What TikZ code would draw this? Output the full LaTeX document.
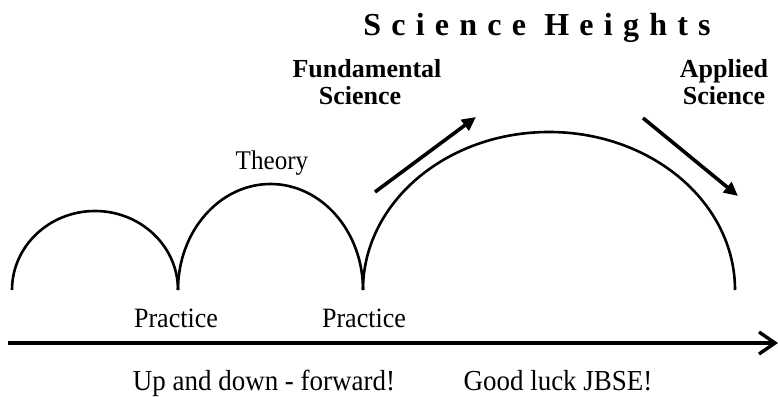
\documentclass[tikz,border=0pt]{standalone}
\usepackage{fontspec}
\setmainfont{Liberation Serif}
\newfontfamily\narrowserif[FakeStretch=0.93]{Liberation Serif}
\usetikzlibrary{arrows.meta}
\tikzset{
  curve/.style={line width=2.6pt},
  thickarrow/.style={line width=3.6pt,-{Triangle[length=14pt,width=13pt]}},
  axisline/.style={line width=3.4pt,-{Straight Barb[length=16pt,width=22pt,line width=3.4pt]}},
  lab/.style={font=\narrowserif\fontsize{28}{30}\selectfont,anchor=base,inner sep=0pt},
  boldlab/.style={font=\fontsize{26}{28}\selectfont\bfseries,anchor=base,inner sep=0pt},
  bottomlab/.style={font=\narrowserif\fontsize{29}{31}\selectfont,anchor=base,inner sep=0pt},
}
\begin{document}
\begin{tikzpicture}[x=1pt,y=1pt]
\useasboundingbox (0,0) rectangle (778,396);
% ground points
\coordinate (p0) at (12,106);
\coordinate (p1) at (178,106);
\coordinate (p2) at (363,106);
\coordinate (p3) at (735,106);
% arcs
\draw[curve] (p0) arc[start angle=180,end angle=0,x radius=83,y radius=79];
\draw[curve] (p1) arc[start angle=180,end angle=0,x radius=92.5,y radius=106];
\draw[curve] (p2) arc[start angle=180,end angle=0,x radius=186,y radius=158];
% axis
\coordinate (a0) at (8,53);
\coordinate (a1) at (778,53);
\draw[axisline] (a0) -- (a1);
% arrows
\coordinate (u0) at (375,204);
\coordinate (u1) at (476,279);
\coordinate (d0) at (643,278);
\coordinate (d1) at (738,200);
\draw[thickarrow] (u0) -- (u1);
\draw[thickarrow] (d0) -- (d1);
% texts
\node[font=\fontsize{32}{34}\selectfont\bfseries\addfontfeature{LetterSpace=32},anchor=base,inner sep=0pt] (title) at (537,360) {Science Heights};
\node[boldlab] (fund1) at (367,318) {Fundamental};
\node[boldlab] (fund2) at (360,291) {Science};
\node[boldlab] (app1) at (724,318) {Applied};
\node[boldlab] (app2) at (724,291) {Science};
\node[lab,font=\narrowserif\fontsize{27}{29}\selectfont] (theory) at (272,226) {Theory};
\node[lab] (prac1) at (176,69) {Practice};
\node[lab] (prac2) at (364,69) {Practice};
\node[bottomlab] (up) at (264,6) {Up and down - forward!};
\node[bottomlab] (luck) at (558,6) {Good luck JBSE!};
\end{tikzpicture}
\end{document}
